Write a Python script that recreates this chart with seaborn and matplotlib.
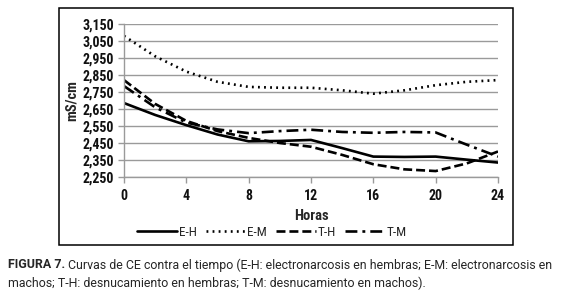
import matplotlib
matplotlib.use("Agg")
import matplotlib.pyplot as plt
import matplotlib.patches as mpatches
from matplotlib.ticker import FuncFormatter
import seaborn as sns
import pandas as pd

horas = [0, 2, 4, 6, 8, 10, 12, 14, 16, 18, 20, 22, 24]
e_h = [2685, 2615, 2555, 2500, 2460, 2462, 2468, 2420, 2370, 2368, 2370, 2352, 2335]
e_m = [3080, 2960, 2870, 2810, 2780, 2775, 2775, 2760, 2740, 2760, 2790, 2810, 2820]
t_h = [2820, 2680, 2580, 2520, 2480, 2450, 2428, 2380, 2325, 2295, 2285, 2330, 2400]
t_m = [2785, 2660, 2570, 2530, 2508, 2520, 2528, 2515, 2510, 2515, 2512, 2440, 2370]
series_names = ["E-H", "E-M", "T-H", "T-M"]
y_ticks = [2250, 2350, 2450, 2550, 2650, 2750, 2850, 2950, 3050, 3150]
x_ticks = [0, 4, 8, 12, 16, 20, 24]

sns.set_theme(style="white")
cond = ["Roboto Condensed", "Archivo Narrow", "Liberation Sans Narrow", "Roboto", "DejaVu Sans"]
regular = ["Roboto", "DejaVu Sans"]
plt.rcParams["font.family"] = cond

fig = plt.figure(figsize=(5.61, 2.96), dpi=100)
W, H = 561, 296
ax = fig.add_axes([124 / W, 1 - 177 / H, (498 - 124) / W, (177 - 24) / H])

styles = {
    "E-H": dict(linestyle="-", linewidth=1.9),
    "E-M": dict(linestyle=(0, (0.7, 1.6)), linewidth=1.9),
    "T-H": dict(linestyle=(0, (3.4, 1.5)), linewidth=1.9),
    "T-M": dict(linestyle=(0, (4.5, 1.9, 1.1, 1.9)), linewidth=1.9),
}
data = {"E-H": e_h, "E-M": e_m, "T-H": t_h, "T-M": t_m}
for name in series_names:
    df = pd.DataFrame({"Horas": horas, "CE": data[name]})
    sns.lineplot(data=df, x="Horas", y="CE", ax=ax, color="black",
                 label=name, **styles[name])

ax.set_xlim(0, 24)
ax.set_ylim(2250, 3150)
ax.set_xticks(x_ticks)
ax.set_yticks(y_ticks)
ax.yaxis.set_major_formatter(FuncFormatter(lambda v, p: f"{int(v):,}"))
ax.grid(axis="y", color="#9a9a9a", linewidth=1.0)
ax.grid(axis="x", visible=False)
for s in ["top", "right"]:
    ax.spines[s].set_visible(False)
for s in ["left", "bottom"]:
    ax.spines[s].set_color("#9a9a9a")
    ax.spines[s].set_linewidth(1.0)
ax.tick_params(axis="x", direction="out", length=4, color="#9a9a9a", width=1,
               labelsize=10, pad=5, bottom=True)
ax.tick_params(axis="y", direction="out", length=4, color="#9a9a9a", width=1,
               labelsize=10, pad=3, left=True)
for lab in ax.get_xticklabels() + ax.get_yticklabels():
    lab.set_fontweight("bold")
    lab.set_color("#111111")
ax.set_xlabel("Horas", fontsize=10.5, fontweight="bold", labelpad=4)
ax.set_ylabel("mS/cm", fontsize=10.5, fontweight="bold", labelpad=3)
ax.get_legend().remove()

handles, labels = ax.get_legend_handles_labels()
fig.legend(handles, labels, loc="center", bbox_to_anchor=(272 / W, 1 - 232 / H),
           ncol=4, frameon=False, fontsize=9.5, handlelength=3.0,
           handletextpad=0.15, columnspacing=0.7, borderaxespad=0,
           borderpad=0)

fig.patches.append(mpatches.Rectangle((59 / W, 1 - 245 / H), (513 - 59) / W,
                                      (245 - 8) / H, transform=fig.transFigure,
                                      fill=False, edgecolor="black",
                                      linewidth=1.1))

t1 = fig.text(8 / W, 1 - 265 / H, "FIGURA 7.", fontsize=8.9, fontweight="bold",
              va="center", ha="left", family=regular)
fig.canvas.draw()
bb = t1.get_window_extent()
fig.text((bb.x1 + 3) / W, 1 - 265 / H,
         "Curvas de CE contra el tiempo (E-H: electronarcosis en hembras; E-M: electronarcosis en",
         fontsize=8.9, va="center", ha="left", family=regular)
fig.text(8 / W, 1 - 283 / H,
         "machos; T-H: desnucamiento en hembras; T-M: desnucamiento en machos).",
         fontsize=8.9, va="center", ha="left", family=regular)

fig.savefig("out.png", dpi=100)
